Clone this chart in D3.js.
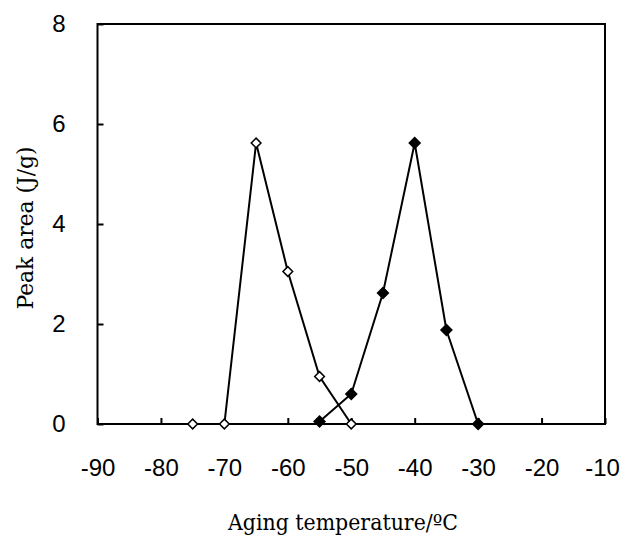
<!DOCTYPE html>
<html>
<head>
<meta charset="utf-8">
<script src="https://cdn.jsdelivr.net/npm/d3@7"></script>
<style>
  body { margin: 0; background: #fff; }
  text { fill: #000; }
</style>
</head>
<body>
<div id="container"></div>
<script>
// values
const openTemps = [-75, -70, -65, -60, -55, -50];
const openArea  = [0, 0, 5.62, 3.05, 0.95, 0];
const filledTemps = [-55, -50, -45, -40, -35, -30];
const filledArea  = [0.05, 0.6, 2.62, 5.62, 1.88, 0];
const xTicks = [-90, -80, -70, -60, -50, -40, -30, -20, -10];
const yTicks = [0, 2, 4, 6, 8];

const width = 621, height = 538;
const mLeft = 97.5, mRight = 605, mTop = 24, mBottom = 424;

const x = d3.scaleLinear().domain([-90, -10]).range([mLeft, mRight]);
const y = d3.scaleLinear().domain([0, 8]).range([mBottom, mTop]);

const svg = d3.select("#container")
  .append("svg")
    .attr("width", width)
    .attr("height", height);

// frame
svg.append("rect")
    .attr("x", mLeft).attr("y", mTop)
    .attr("width", mRight - mLeft).attr("height", mBottom - mTop)
    .attr("fill", "none")
    .attr("stroke", "#000")
    .attr("stroke-width", 2);

const xAxis = svg.append("g")
    .attr("transform", `translate(0,${mBottom})`)
    .call(d3.axisBottom(x).tickValues(xTicks).tickSize(-6).tickPadding(35).tickFormat(d => String(d)));
const yAxis = svg.append("g")
    .attr("transform", `translate(${mLeft},0)`)
    .call(d3.axisLeft(y).tickValues(yTicks).tickSize(-6).tickPadding(32).tickFormat(d => String(d)));

[xAxis, yAxis].forEach(g => {
  g.select(".domain").remove();
  g.selectAll(".tick line").attr("stroke", "#000").attr("stroke-width", 2);
  g.selectAll(".tick text")
    .attr("font-family", "'Liberation Sans', Arial, sans-serif")
    .attr("font-size", 24)
    .attr("fill", "#000");
});
// last label sits against the right edge
xAxis.selectAll(".tick text").filter(d => d === -10).attr("x", -3);

const line = d3.line().x(d => x(d[0])).y(d => y(d[1]));

function series(temps, vals, fill, size) {
  const pts = temps.map((t, i) => [t, vals[i]]);
  const diamond = d3.symbol().type(d3.symbolDiamond2).size(size);
  svg.append("path")
      .datum(pts)
      .attr("d", line)
      .attr("fill", "none")
      .attr("stroke", "#000")
      .attr("stroke-width", 2);
  svg.append("g").selectAll("path")
    .data(pts)
    .join("path")
      .attr("transform", d => `translate(${x(d[0])},${y(d[1])})`)
      .attr("d", diamond)
      .attr("fill", fill)
      .attr("stroke", "#000")
      .attr("stroke-width", 1.5);
}
series(openTemps, openArea, "#fff", 60);
series(filledTemps, filledArea, "#000", 75);

svg.append("text")
    .attr("x", 343)
    .attr("y", 530)
    .attr("text-anchor", "middle")
    .attr("font-family", "'DejaVu Serif', serif")
    .attr("font-size", 22)
    .attr("textLength", 230)
    .attr("lengthAdjust", "spacingAndGlyphs")
    .text("Aging temperature/ºC");

svg.append("text")
    .attr("transform", `translate(33,228) rotate(-90)`)
    .attr("text-anchor", "middle")
    .attr("font-family", "'DejaVu Serif', serif")
    .attr("font-size", 22)
    .attr("textLength", 163)
    .attr("lengthAdjust", "spacingAndGlyphs")
    .text("Peak area (J/g)");
</script>
</body>
</html>
